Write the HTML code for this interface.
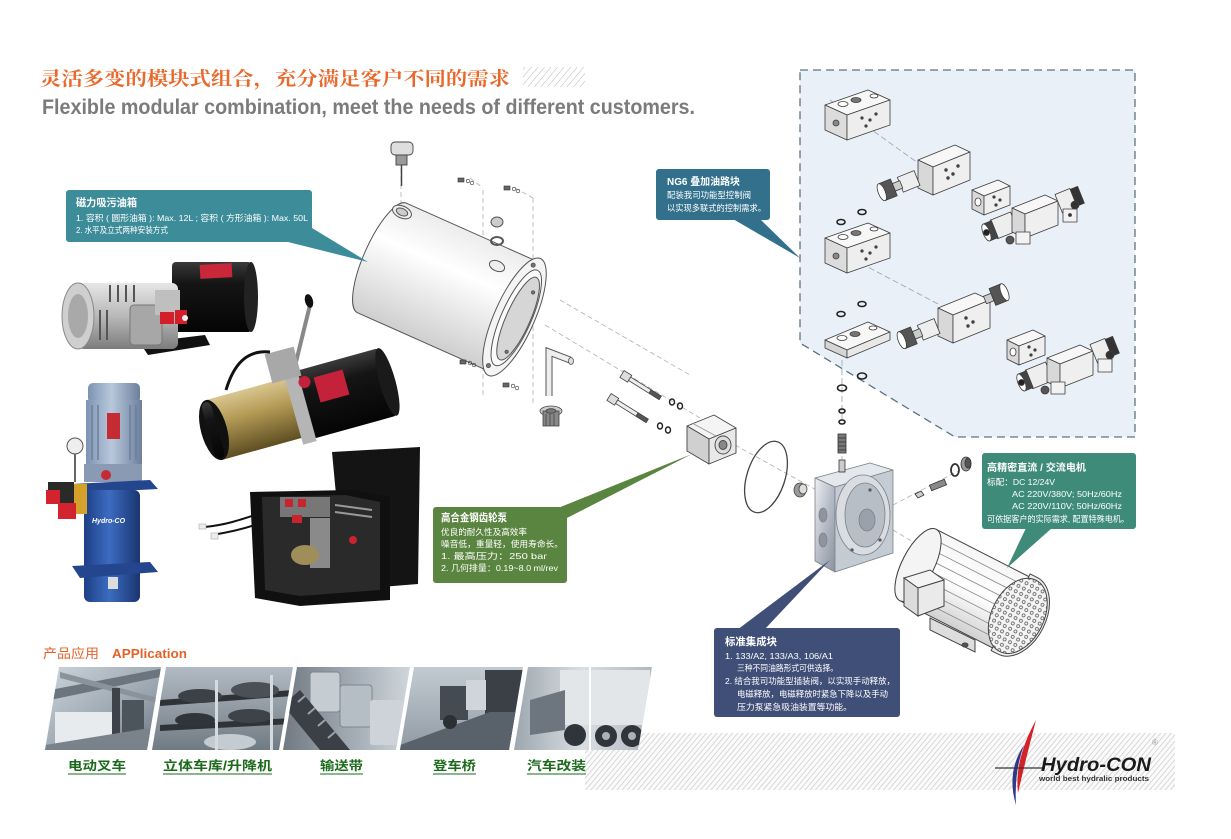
<!DOCTYPE html>
<html><head><meta charset="utf-8">
<style>
html,body{margin:0;padding:0;background:#fff;}
svg{display:block;}
text{font-family:"Liberation Sans","Noto Sans CJK SC",sans-serif;}
.cal{font-family:"Liberation Serif","Noto Serif CJK SC",serif;font-weight:bold;}
.w{fill:#fff;}
</style></head><body>
<svg width="1231" height="839" viewBox="0 0 1231 839" xmlns="http://www.w3.org/2000/svg">
<defs>
 <pattern id="hatch" width="4" height="4" patternUnits="userSpaceOnUse" patternTransform="rotate(40)">
   <rect width="4" height="4" fill="#fbfbfb"/>
   <line x1="0" y1="0" x2="0" y2="4" stroke="#c6c6c6" stroke-width="1.5"/>
 </pattern>
 <pattern id="hatch2" width="5" height="5" patternUnits="userSpaceOnUse" patternTransform="rotate(40)">
   <rect width="5" height="5" fill="#fff"/>
   <line x1="0" y1="0" x2="0" y2="5" stroke="#b8b8b8" stroke-width="1"/>
 </pattern>
 <pattern id="dots" width="6" height="6" patternUnits="userSpaceOnUse">
   <rect width="6" height="6" fill="#f4f4f4"/>
   <circle cx="3" cy="3" r="1.5" fill="none" stroke="#555" stroke-width="0.7"/>
 </pattern>
 <linearGradient id="tankg" x1="0" y1="0" x2="0" y2="1">
   <stop offset="0" stop-color="#ececec"/><stop offset="0.35" stop-color="#ffffff"/><stop offset="1" stop-color="#cfcfcf"/>
 </linearGradient>
 <linearGradient id="silver" x1="0" y1="0" x2="0" y2="1">
   <stop offset="0" stop-color="#e6e6e6"/><stop offset="0.5" stop-color="#b9b9b9"/><stop offset="1" stop-color="#7c7c7c"/>
 </linearGradient>
 <linearGradient id="black" x1="0" y1="0" x2="0" y2="1">
   <stop offset="0" stop-color="#3a3a3a"/><stop offset="0.3" stop-color="#151515"/><stop offset="1" stop-color="#050505"/>
 </linearGradient>
 <linearGradient id="gold" x1="0" y1="0" x2="0" y2="1">
   <stop offset="0" stop-color="#d9c690"/><stop offset="0.4" stop-color="#b39a55"/><stop offset="1" stop-color="#5e4e22"/>
 </linearGradient>
 <linearGradient id="blue" x1="0" y1="0" x2="1" y2="0">
   <stop offset="0" stop-color="#1d3f85"/><stop offset="0.45" stop-color="#3c6cc0"/><stop offset="1" stop-color="#1a3470"/>
 </linearGradient>
 <linearGradient id="lblue" x1="0" y1="0" x2="1" y2="0">
   <stop offset="0" stop-color="#7d93b3"/><stop offset="0.45" stop-color="#b8c8dc"/><stop offset="1" stop-color="#6c7f9c"/>
 </linearGradient>
 <linearGradient id="metal" x1="0" y1="0" x2="1" y2="1">
   <stop offset="0" stop-color="#eef0f3"/><stop offset="0.5" stop-color="#b5bcc6"/><stop offset="1" stop-color="#8a929e"/>
 </linearGradient>
 <linearGradient id="motorg" x1="0" y1="0" x2="0" y2="1">
   <stop offset="0" stop-color="#f6f6f6"/><stop offset="0.5" stop-color="#ffffff"/><stop offset="1" stop-color="#d0d0d0"/>
 </linearGradient>
 <linearGradient id="p1" x1="0" y1="0" x2="1" y2="1">
   <stop offset="0" stop-color="#d3dae0"/><stop offset="0.6" stop-color="#98a3ad"/><stop offset="1" stop-color="#5f6973"/>
 </linearGradient>
 <linearGradient id="p2" x1="0" y1="0" x2="0" y2="1">
   <stop offset="0" stop-color="#b7c0c8"/><stop offset="1" stop-color="#6d7780"/>
 </linearGradient>
 <linearGradient id="p3" x1="0" y1="0" x2="1" y2="0">
   <stop offset="0" stop-color="#6f7880"/><stop offset="0.6" stop-color="#a9b2ba"/><stop offset="1" stop-color="#d4dade"/>
 </linearGradient>
 <linearGradient id="p4" x1="0" y1="0" x2="0" y2="1">
   <stop offset="0" stop-color="#c7cfd6"/><stop offset="1" stop-color="#8d97a0"/>
 </linearGradient>
 <linearGradient id="p5" x1="0" y1="0" x2="1" y2="0">
   <stop offset="0" stop-color="#9aa4ac"/><stop offset="0.5" stop-color="#d9dee2"/><stop offset="1" stop-color="#aeb6bd"/>
 </linearGradient>
 <clipPath id="c1"><polygon points="59,667 161,667 147,750 45,750"/></clipPath>
 <clipPath id="c2"><polygon points="166,667 293,667 279,750 152,750"/></clipPath>
 <clipPath id="c3"><polygon points="297,667 410,667 396,750 283,750"/></clipPath>
 <clipPath id="c4"><polygon points="414,667 523,667 509,750 400,750"/></clipPath>
 <clipPath id="c5"><polygon points="528,667 652,667 638,750 514,750"/></clipPath>
</defs>

<rect width="1231" height="839" fill="#fff"/>

<!-- ===== Titles ===== -->
<text x="40" y="85" class="cal" font-size="19" fill="#e9692c" textLength="470" lengthAdjust="spacingAndGlyphs" style="font-family:'Noto Serif CJK SC','Liberation Serif',serif;font-weight:bold;">灵活多变的模块式组合，充分满足客户不同的需求</text>
<rect x="523" y="67" width="62" height="20" fill="url(#hatch2)"/>
<text x="42" y="114" font-size="21" font-weight="bold" fill="#7b7b7b" textLength="653" lengthAdjust="spacingAndGlyphs">Flexible modular combination, meet the needs of different  customers.</text>

<!-- ===== dashed box ===== -->
<polygon points="800,70 1135,70 1135,437 955,437 800,343" fill="#e9f0f7" stroke="#5c7384" stroke-width="1.3" stroke-dasharray="8,5"/>

<!-- guide lines inside box -->
<g stroke="#9aa4ac" stroke-width="0.8" stroke-dasharray="6,3" fill="none">
 <line x1="830" y1="100" x2="918" y2="163"/>
 <line x1="845" y1="255" x2="940" y2="305"/>
 <line x1="842" y1="360" x2="842" y2="420"/>
</g>

<!-- Block 1 -->
<g stroke="#3d3d3d" stroke-width="0.8" stroke-linejoin="round">
 <polygon points="825,105 868,90 890,100 847,115" fill="#f7f7f7"/>
 <polygon points="825,105 847,115 847,140 825,130" fill="#dcdcdc"/>
 <polygon points="847,115 890,100 890,125 847,140" fill="#eeeeee"/>
 <ellipse cx="843" cy="104" rx="5" ry="2.5" fill="#fff"/><ellipse cx="856" cy="100" rx="5" ry="2.5" fill="#777"/><ellipse cx="874" cy="96" rx="4" ry="2" fill="#fff"/>
 <circle cx="836" cy="123" r="3" fill="#888"/>
 <circle cx="862" cy="118" r="1.2" fill="#444"/><circle cx="870" cy="120" r="1.2" fill="#444"/><circle cx="866" cy="126" r="1.2" fill="#444"/><circle cx="876" cy="114" r="1.2" fill="#444"/>
</g>
<!-- Block 2 -->
<g transform="translate(0,133)" stroke="#3d3d3d" stroke-width="0.8" stroke-linejoin="round">
 <polygon points="825,105 868,90 890,100 847,115" fill="#f7f7f7"/>
 <polygon points="825,105 847,115 847,140 825,130" fill="#dcdcdc"/>
 <polygon points="847,115 890,100 890,125 847,140" fill="#eeeeee"/>
 <ellipse cx="843" cy="104" rx="5" ry="2.5" fill="#fff"/><ellipse cx="856" cy="100" rx="5" ry="2.5" fill="#777"/><ellipse cx="874" cy="96" rx="4" ry="2" fill="#fff"/>
 <circle cx="836" cy="123" r="3" fill="#888"/>
 <circle cx="862" cy="118" r="1.2" fill="#444"/><circle cx="870" cy="120" r="1.2" fill="#444"/><circle cx="866" cy="126" r="1.2" fill="#444"/><circle cx="876" cy="114" r="1.2" fill="#444"/>
</g>
<!-- Plate -->
<g stroke="#3d3d3d" stroke-width="0.8" stroke-linejoin="round">
 <polygon points="825,340 868,322 890,332 847,350" fill="#f7f7f7"/>
 <polygon points="825,340 847,350 847,358 825,348" fill="#d5d5d5"/>
 <polygon points="847,350 890,332 890,340 847,358" fill="#e8e8e8"/>
 <ellipse cx="842" cy="338" rx="5" ry="2.5" fill="#fff"/><ellipse cx="855" cy="334" rx="5" ry="2.5" fill="#777"/><ellipse cx="873" cy="328" rx="4" ry="2" fill="#fff"/>
</g>
<!-- rings -->
<g fill="none" stroke="#222" stroke-width="1.6">
 <ellipse cx="841" cy="222" rx="4" ry="2.5"/><ellipse cx="862" cy="212" rx="4" ry="2.5"/>
 <ellipse cx="841" cy="314" rx="4" ry="2.5"/><ellipse cx="862" cy="304" rx="4" ry="2.5"/>
 <ellipse cx="862" cy="376" rx="4.5" ry="3"/><ellipse cx="842" cy="388" rx="4.5" ry="3"/>
 <ellipse cx="842" cy="411" rx="3" ry="2"/><ellipse cx="842" cy="422" rx="3" ry="2"/>
</g>
<!-- relief valve 1 -->
<g id="rv1" stroke="#3d3d3d" stroke-width="0.8" stroke-linejoin="round">
 <polygon points="918,160 955,145 970,152 933,167" fill="#f7f7f7"/>
 <polygon points="918,160 933,167 933,195 918,188" fill="#d8d8d8"/>
 <polygon points="933,167 970,152 970,180 933,195" fill="#efefef"/>
 <circle cx="946" cy="170" r="1.3" fill="#444"/><circle cx="953" cy="174" r="1.3" fill="#444"/><circle cx="948" cy="178" r="1.3" fill="#444"/><circle cx="958" cy="166" r="1.3" fill="#444"/>
 <g transform="translate(917,178) rotate(-22)">
  <rect x="-18" y="-8" width="18" height="16" fill="#eee"/>
  <rect x="-25" y="-4" width="8" height="8" fill="#ccc"/>
  <rect x="-38" y="-9" width="13" height="18" fill="#555"/>
  <ellipse cx="-38" cy="0" rx="3.5" ry="9" fill="#fff"/>
 </g>
</g>
<!-- small block 1 -->
<g id="sb1" stroke="#3d3d3d" stroke-width="0.8" stroke-linejoin="round">
 <polygon points="972,190 998,180 1010,186 984,196" fill="#f7f7f7"/>
 <polygon points="972,190 984,196 984,215 972,209" fill="#d8d8d8"/>
 <polygon points="984,196 1010,186 1010,205 984,215" fill="#efefef"/>
 <ellipse cx="978" cy="202" rx="3" ry="4" fill="#fff"/>
 <circle cx="994" cy="197" r="1.2" fill="#444"/><circle cx="1000" cy="200" r="1.2" fill="#444"/><circle cx="996" cy="205" r="1.2" fill="#444"/>
</g>
<!-- solenoid valve 1 -->
<g id="sv1" stroke="#3d3d3d" stroke-width="0.8" stroke-linejoin="round">
 <g transform="translate(1005,225) rotate(-22)">
  <rect x="-12" y="-10" width="22" height="20" fill="#eee"/>
  <rect x="-20" y="-9" width="9" height="18" fill="#444"/>
  <ellipse cx="-20" cy="0" rx="3.5" ry="9" fill="#fff"/>
  <circle cx="-20" cy="0" r="3" fill="#222"/>
 </g>
 <polygon points="1012,208 1045,195 1058,201 1025,214" fill="#f7f7f7"/>
 <polygon points="1012,208 1025,214 1025,238 1012,232" fill="#d8d8d8"/>
 <polygon points="1025,214 1058,201 1058,225 1025,238" fill="#efefef"/>
 <g transform="translate(1068,200) rotate(-22)">
  <rect x="-10" y="-10" width="16" height="20" fill="#eee"/>
  <rect x="6" y="-9" width="8" height="18" fill="#333"/>
 </g>
 <rect x="1016" y="232" width="14" height="12" fill="#f2f2f2"/>
 <circle cx="1010" cy="240" r="4" fill="#555"/>
 <rect x="1063" y="209" width="14" height="13" fill="#f2f2f2"/>
 <circle cx="1070" cy="215" r="1.5" fill="#333"/>
 <circle cx="1075" cy="205" r="4" fill="#333"/>
</g>
<!-- second set -->
<g transform="translate(20,148)">
 <g stroke="#3d3d3d" stroke-width="0.8" stroke-linejoin="round">
  <polygon points="918,160 955,145 970,152 933,167" fill="#f7f7f7"/>
  <polygon points="918,160 933,167 933,195 918,188" fill="#d8d8d8"/>
  <polygon points="933,167 970,152 970,180 933,195" fill="#efefef"/>
  <circle cx="946" cy="170" r="1.3" fill="#444"/><circle cx="953" cy="174" r="1.3" fill="#444"/><circle cx="948" cy="178" r="1.3" fill="#444"/>
  <g transform="translate(917,178) rotate(-22)">
   <rect x="-18" y="-8" width="18" height="16" fill="#eee"/>
   <rect x="-25" y="-4" width="8" height="8" fill="#ccc"/>
   <rect x="-38" y="-9" width="13" height="18" fill="#555"/>
   <ellipse cx="-38" cy="0" rx="3.5" ry="9" fill="#fff"/>
  </g>
  <g transform="translate(965,152) rotate(-22)">
   <rect x="0" y="-4" width="8" height="8" fill="#ccc"/>
   <rect x="8" y="-9" width="13" height="18" fill="#555"/>
   <ellipse cx="21" cy="0" rx="3.5" ry="9" fill="#fff"/>
  </g>
 </g>
</g>
<g transform="translate(35,150)">
 <g stroke="#3d3d3d" stroke-width="0.8" stroke-linejoin="round">
  <polygon points="972,190 998,180 1010,186 984,196" fill="#f7f7f7"/>
  <polygon points="972,190 984,196 984,215 972,209" fill="#d8d8d8"/>
  <polygon points="984,196 1010,186 1010,205 984,215" fill="#efefef"/>
  <ellipse cx="978" cy="202" rx="3" ry="4" fill="#fff"/>
  <circle cx="994" cy="197" r="1.2" fill="#444"/><circle cx="1000" cy="200" r="1.2" fill="#444"/><circle cx="996" cy="205" r="1.2" fill="#444"/>
 </g>
 <g stroke="#3d3d3d" stroke-width="0.8" stroke-linejoin="round">
  <g transform="translate(1005,225) rotate(-22)">
   <rect x="-12" y="-10" width="22" height="20" fill="#eee"/>
   <rect x="-20" y="-9" width="9" height="18" fill="#444"/>
   <ellipse cx="-20" cy="0" rx="3.5" ry="9" fill="#fff"/>
   <circle cx="-20" cy="0" r="3" fill="#222"/>
  </g>
  <polygon points="1012,208 1045,195 1058,201 1025,214" fill="#f7f7f7"/>
  <polygon points="1012,208 1025,214 1025,238 1012,232" fill="#d8d8d8"/>
  <polygon points="1025,214 1058,201 1058,225 1025,238" fill="#efefef"/>
  <g transform="translate(1068,200) rotate(-22)">
   <rect x="-10" y="-10" width="16" height="20" fill="#eee"/>
   <rect x="6" y="-9" width="8" height="18" fill="#333"/>
  </g>
  <rect x="1016" y="232" width="14" height="12" fill="#f2f2f2"/>
  <circle cx="1010" cy="240" r="4" fill="#555"/>
  <rect x="1063" y="209" width="14" height="13" fill="#f2f2f2"/>
  <circle cx="1075" cy="205" r="4" fill="#333"/>
 </g>
</g>

<!-- ===== exploded tank ===== -->
<g stroke="#b0b0b0" stroke-width="0.8" stroke-dasharray="5,3" fill="none">
 <line x1="401" y1="160" x2="401" y2="205"/>
 <line x1="483" y1="190" x2="483" y2="398"/>
 <line x1="533" y1="198" x2="533" y2="405"/>
 <line x1="470" y1="178" x2="483" y2="188"/>
 <line x1="515" y1="188" x2="533" y2="198"/>
 <line x1="545" y1="325" x2="700" y2="418"/>
 <line x1="560" y1="300" x2="690" y2="375"/>
 <line x1="735" y1="445" x2="820" y2="492"/>
 <line x1="893" y1="530" x2="930" y2="552"/>
 <line x1="893" y1="505" x2="960" y2="470"/>
 <line x1="842" y1="440" x2="842" y2="470"/>
</g>
<!-- cap -->
<g stroke="#444" stroke-width="0.9">
 <rect x="391" y="142" width="22" height="13" rx="4" fill="#dedede"/>
 <rect x="396" y="155" width="11" height="10" fill="#999"/>
 <line x1="401.5" y1="165" x2="401.5" y2="186" stroke-width="1.5"/>
</g>
<g transform="translate(382,258) rotate(24)" stroke="#555" stroke-width="1">
 <path d="M0,-60 L145,-60 A18,60 0 0 1 145,60 L0,60 A18,60 0 0 1 0,-60 Z" fill="url(#tankg)"/>
 <ellipse cx="145" cy="0" rx="20" ry="64" fill="#f4f4f4"/>
 <ellipse cx="147" cy="0" rx="15" ry="52" fill="#fafafa"/>
 <ellipse cx="149" cy="0" rx="12" ry="45" fill="#d6d6d6"/>
 <circle cx="141" cy="-55" r="2" fill="#777"/><circle cx="141" cy="55" r="2" fill="#777"/><circle cx="152" cy="-30" r="1.6" fill="#777"/><circle cx="152" cy="35" r="1.6" fill="#777"/>
</g>
<g stroke="#555" stroke-width="1" fill="#eee">
 <ellipse cx="402" cy="212" rx="10" ry="6" transform="rotate(24 402 212)"/>
 <ellipse cx="402" cy="212" rx="6" ry="3.5" transform="rotate(24 402 212)" fill="#ccc"/>
 <ellipse cx="497" cy="266" rx="8" ry="5" transform="rotate(24 497 266)"/>
 <ellipse cx="497" cy="222" rx="6" ry="5" fill="#ccc"/>
 <ellipse cx="497" cy="241" rx="6" ry="4" fill="none" stroke-width="2"/>
</g>
<!-- small screws -->
<g fill="#666" stroke="#333" stroke-width="0.6">
 <g transform="translate(458,180)"><rect x="0" y="-2" width="6" height="4"/><circle cx="10" cy="1" r="1.8" fill="none"/><circle cx="14" cy="3" r="1.8" fill="none"/></g>
 <g transform="translate(504,188)"><rect x="0" y="-2" width="6" height="4"/><circle cx="10" cy="1" r="1.8" fill="none"/><circle cx="14" cy="3" r="1.8" fill="none"/></g>
 <g transform="translate(460,362)"><rect x="0" y="-2" width="6" height="4"/><circle cx="10" cy="1" r="1.8" fill="none"/><circle cx="14" cy="3" r="1.8" fill="none"/></g>
 <g transform="translate(503,385)"><rect x="0" y="-2" width="6" height="4"/><circle cx="10" cy="1" r="1.8" fill="none"/><circle cx="14" cy="3" r="1.8" fill="none"/></g>
</g>
<!-- elbow pipe -->
<path d="M549,396 L549,352 L570,360" fill="none" stroke="#555" stroke-width="7" stroke-linejoin="miter"/>
<path d="M549,396 L549,352 L570,360" fill="none" stroke="#eee" stroke-width="5" stroke-linejoin="miter"/>
<ellipse cx="571" cy="361" rx="2.5" ry="3.5" fill="#ddd" stroke="#555" stroke-width="0.8"/>
<!-- filter -->
<g stroke="#444" stroke-width="0.8">
 <ellipse cx="551" cy="411" rx="11" ry="5" fill="#ccc"/>
 <rect x="543" y="411" width="16" height="15" fill="#888"/>
 <line x1="546" y1="414" x2="546" y2="426"/><line x1="550" y1="414" x2="550" y2="426"/><line x1="554" y1="414" x2="554" y2="426"/>
 <ellipse cx="551" cy="411" rx="5" ry="2.3" fill="#777"/>
</g>
<!-- bolts -->
<g stroke="#444" stroke-width="0.8">
 <g transform="translate(622,374) rotate(32)"><rect x="0" y="-4" width="9" height="8" fill="#ddd"/><rect x="9" y="-2" width="36" height="4" fill="#eee"/><rect x="33" y="-2" width="12" height="4" fill="#555"/></g>
 <g transform="translate(609,397) rotate(32)"><rect x="0" y="-4" width="9" height="8" fill="#ddd"/><rect x="9" y="-2" width="36" height="4" fill="#eee"/><rect x="33" y="-2" width="12" height="4" fill="#555"/></g>
</g>
<g fill="none" stroke="#222" stroke-width="1.4">
 <ellipse cx="672" cy="402" rx="2.5" ry="3"/><ellipse cx="680" cy="406" rx="2.5" ry="3"/>
 <ellipse cx="660" cy="426" rx="2.5" ry="3"/><ellipse cx="668" cy="430" rx="2.5" ry="3"/>
</g>
<!-- pump -->
<g stroke="#444" stroke-width="0.9" stroke-linejoin="round">
 <polygon points="687,426 714,415 736,428 709,439" fill="#f4f4f4"/>
 <polygon points="687,426 709,439 709,464 687,451" fill="#d0d0d0"/>
 <polygon points="709,439 736,428 736,453 709,464" fill="#e8e8e8"/>
 <line x1="692" y1="423" x2="716" y2="436" stroke="#999"/>
 <ellipse cx="723" cy="445" rx="8" ry="9" fill="#ddd"/>
 <ellipse cx="723" cy="445" rx="4" ry="4.5" fill="#888"/>
</g>
<!-- O-ring big -->
<ellipse cx="766" cy="477" rx="19" ry="37" transform="rotate(18 766 477)" fill="none" stroke="#444" stroke-width="1.3"/>
<!-- plug -->
<g stroke="#444" stroke-width="0.8"><ellipse cx="800" cy="490" rx="6" ry="7" fill="#999"/><ellipse cx="803" cy="489" rx="4" ry="5" fill="#ddd"/></g>
<!-- manifold block -->
<g stroke="#7a818a" stroke-width="0.8" stroke-linejoin="round">
 <polygon points="815,478 870,463 893,470 835,487" fill="#e4e7eb"/>
 <polygon points="815,478 835,487 835,572 815,561" fill="url(#metal)"/>
 <polygon points="835,487 893,470 893,553 835,572" fill="#c5cbd3"/>
 <ellipse cx="863" cy="515" rx="27" ry="40" fill="#d9dde2"/>
 <ellipse cx="865" cy="515" rx="20" ry="32" fill="#b8bec6"/>
 <ellipse cx="867" cy="520" rx="8" ry="11" fill="#9aa1aa"/>
 <ellipse cx="823" cy="515" rx="4" ry="7" fill="#8f959e"/>
 <ellipse cx="823" cy="540" rx="4" ry="7" fill="#8f959e"/>
 <circle cx="870" cy="490" r="1.5" fill="#555"/><circle cx="880" cy="540" r="1.5" fill="#555"/><circle cx="852" cy="550" r="1.5" fill="#555"/>
</g>
<!-- stack above manifold -->
<g stroke="#333" stroke-width="0.8">
 <rect x="838" y="434" width="8" height="19" fill="#777"/>
 <line x1="838" y1="438" x2="846" y2="438"/><line x1="838" y1="442" x2="846" y2="442"/><line x1="838" y1="446" x2="846" y2="446"/><line x1="838" y1="450" x2="846" y2="450"/>
 <rect x="839" y="460" width="6" height="12" fill="#ccc"/>
</g>
<!-- right chain -->
<g stroke="#333" stroke-width="0.8">
 <path d="M915,494 l6,-3 l3,4 l-6,3z" fill="#ccc"/>
 <rect x="930" y="482" width="16" height="6" fill="#888" transform="rotate(-22 938 485)"/>
 <ellipse cx="955" cy="470" rx="4" ry="6" fill="none" stroke-width="1.8"/>
 <ellipse cx="966" cy="464" rx="5" ry="7" fill="#999"/>
 <ellipse cx="968" cy="463" rx="3" ry="5" fill="#555"/>
</g>
<!-- motor -->
<g transform="translate(918,565) rotate(27)" stroke="#444" stroke-width="1">
 <path d="M0,-40 L108,-40 L108,40 L0,40 A16,40 0 0 1 0,-40 Z" fill="url(#motorg)"/>
 <g stroke="#888" stroke-width="0.8">
  <line x1="8" y1="-30" x2="105" y2="-30"/><line x1="8" y1="-20" x2="105" y2="-20"/><line x1="8" y1="-10" x2="105" y2="-10"/><line x1="8" y1="0" x2="105" y2="0"/><line x1="8" y1="10" x2="105" y2="10"/><line x1="8" y1="20" x2="105" y2="20"/><line x1="8" y1="30" x2="105" y2="30"/>
 </g>
 <ellipse cx="0" cy="0" rx="16" ry="40" fill="#f4f4f4"/>
 <path d="M104,-43 L112,-43 A28,43 0 0 1 112,43 L104,43 Z" fill="#eee"/>
 <ellipse cx="112" cy="0" rx="26" ry="40" fill="url(#dots)"/>
</g>
<g stroke="#444" stroke-width="1">
 <polygon points="904,578 930,570 944,580 918,588" fill="#f4f4f4"/>
 <polygon points="904,578 918,588 918,616 904,606" fill="#dcdcdc"/>
 <polygon points="918,588 944,580 944,606 918,616" fill="#eaeaea"/>
 <polygon points="930,618 975,640 975,652 930,630" fill="#ddd"/>
 <ellipse cx="965" cy="645" rx="3" ry="2" fill="#555"/>
</g>

<!-- ===== product photos (left) ===== -->
<!-- unit 1 -->
<g>
 <polygon points="140,343 205,335 210,345 148,355" fill="#111"/>
 <rect x="172" y="262" width="80" height="70" rx="4" fill="url(#black)"/>
 <ellipse cx="251" cy="297" rx="7" ry="35" fill="#222"/>
 <rect x="200" y="264" width="32" height="14" fill="#c8283a" transform="rotate(-3 216 271)"/>
 <rect x="78" y="283" width="100" height="66" rx="6" fill="url(#silver)"/>
 <g stroke="#555" stroke-width="2"><line x1="110" y1="285" x2="110" y2="302"/><line x1="118" y1="285" x2="118" y2="302"/><line x1="126" y1="285" x2="126" y2="302"/><line x1="134" y1="285" x2="134" y2="302"/><line x1="100" y1="310" x2="100" y2="340"/><line x1="107" y1="310" x2="107" y2="340"/></g>
 <ellipse cx="78" cy="316" rx="16" ry="33" fill="#cfcfcf" stroke="#888"/>
 <ellipse cx="78" cy="316" rx="10" ry="22" fill="#a9a9a9"/>
 <rect x="130" y="305" width="32" height="40" rx="4" fill="#a7a7a7" stroke="#777"/>
 <rect x="155" y="290" width="25" height="25" fill="#bfbfbf"/>
 <rect x="160" y="312" width="14" height="12" fill="#d21f2a"/>
 <rect x="175" y="310" width="12" height="14" fill="#d21f2a"/>
 <circle cx="185" cy="318" r="3" fill="#eee"/>
</g>
<!-- unit 2 -->
<g>
 <line x1="296" y1="362" x2="310" y2="305" stroke="#888" stroke-width="4"/>
 <ellipse cx="309" cy="301" rx="4" ry="7" fill="#111" transform="rotate(-15 309 301)"/>
 <g transform="translate(214,430) rotate(-15.5)">
  <rect x="0" y="-31" width="90" height="62" fill="url(#gold)"/>
  <ellipse cx="0" cy="0" rx="13" ry="31" fill="#111"/>
  <rect x="-6" y="-29" width="10" height="58" rx="6" fill="url(#black)"/>
  <rect x="88" y="-35" width="92" height="70" rx="3" fill="url(#black)"/>
  <ellipse cx="180" cy="0" rx="8" ry="35" fill="#1a1a1a"/>
  <rect x="82" y="-38" width="14" height="76" fill="#b5b5b5"/>
  <rect x="110" y="-24" width="30" height="26" fill="#c4213a"/>
  <circle cx="100" cy="-22" r="6" fill="#c4213a"/>
 </g>
 <rect x="268" y="350" width="30" height="30" fill="#a8a8a8" transform="rotate(-15 283 365)"/>
 <path d="M226,390 C235,360 250,350 270,352" fill="none" stroke="#111" stroke-width="3"/>
</g>
<!-- vertical unit -->
<g>
 <rect x="88" y="383" width="52" height="20" rx="5" fill="url(#lblue)"/>
 <rect x="86" y="400" width="56" height="64" fill="url(#lblue)"/>
 <g stroke="#6d7f99" stroke-width="1.5"><line x1="92" y1="405" x2="92" y2="460"/><line x1="98" y1="405" x2="98" y2="460"/><line x1="130" y1="405" x2="130" y2="460"/><line x1="136" y1="405" x2="136" y2="460"/></g>
 <rect x="107" y="413" width="13" height="26" fill="#c52b33"/>
 <rect x="84" y="464" width="58" height="18" fill="#8a9ab3"/>
 <circle cx="106" cy="475" r="5" fill="#c52b33"/>
 <polygon points="72,484 150,480 158,489 80,493" fill="#24468f"/>
 <rect x="84" y="490" width="56" height="112" rx="6" fill="url(#blue)"/>
 <polygon points="72,566 150,562 158,572 80,578" fill="#24468f"/>
 <rect x="108" y="577" width="10" height="12" fill="#ddd"/>
 <text x="92" y="523" font-size="7" font-style="italic" font-weight="bold" fill="#fff">Hydro-CO</text>
 <circle cx="75" cy="446" r="8" fill="#eee" stroke="#555"/>
 <line x1="75" y1="454" x2="75" y2="482" stroke="#666" stroke-width="2"/>
 <rect x="72" y="484" width="15" height="30" fill="#d4a22a"/>
 <rect x="48" y="482" width="26" height="22" fill="#2a2a2a"/>
 <rect x="46" y="490" width="14" height="14" fill="#d2232f"/>
 <rect x="58" y="503" width="18" height="16" fill="#d2232f"/>
</g>
<!-- box unit -->
<g>
 <polygon points="332,452 420,447 418,584 345,590" fill="#141414"/>
 <polygon points="250,492 352,490 390,497 390,600 300,606 255,598" fill="#101010"/>
 <polygon points="262,497 345,495 380,502 380,590 300,596 265,590" fill="#2a2a2a"/>
 <rect x="280" y="497" width="50" height="20" fill="#777"/>
 <rect x="285" y="499" width="8" height="8" fill="#c9232d"/><rect x="298" y="499" width="8" height="8" fill="#c9232d"/>
 <rect x="292" y="515" width="10" height="8" fill="#c9232d"/>
 <rect x="310" y="518" width="20" height="50" fill="#8a8a8a"/>
 <ellipse cx="305" cy="555" rx="14" ry="10" fill="#a08e5a"/>
 <line x1="335" y1="505" x2="372" y2="510" stroke="#999" stroke-width="2"/>
 <line x1="335" y1="512" x2="372" y2="517" stroke="#999" stroke-width="2"/>
 <circle cx="353" cy="540" r="4" fill="#c9232d"/>
 <path d="M255,515 C240,520 225,525 205,527" stroke="#111" stroke-width="2" fill="none"/>
 <path d="M255,525 C240,530 225,533 212,535" stroke="#111" stroke-width="2" fill="none"/>
 <rect x="199" y="524" width="7" height="5" fill="#eee" stroke="#999" stroke-width="0.5"/>
 <rect x="211" y="533" width="7" height="6" fill="#eee" stroke="#999" stroke-width="0.5"/>
</g>

<!-- ===== callouts ===== -->
<!-- 1 -->
<polygon points="284,241 312,228 368,262" fill="#3d8c9a"/>
<rect x="66" y="190" width="246" height="52" rx="3" fill="#3d8c9a"/>
<text x="76" y="206" font-size="10.5" font-weight="bold" class="w" textLength="61" lengthAdjust="spacingAndGlyphs">磁力吸污油箱</text>
<text x="76" y="221" font-size="8.5" class="w" textLength="232" lengthAdjust="spacingAndGlyphs">1. 容积 ( 圆形油箱 ): Max. 12L ;  容积 ( 方形油箱 ): Max. 50L</text>
<text x="76" y="233" font-size="8.5" class="w" textLength="92" lengthAdjust="spacingAndGlyphs">2. 水平及立式两种安装方式</text>

<!-- 2 -->
<polygon points="733,219 760,219 800,258" fill="#32708c"/>
<rect x="656" y="169" width="114" height="51" rx="3" fill="#32708c"/>
<text x="667" y="185" font-size="10" font-weight="bold" class="w" textLength="73" lengthAdjust="spacingAndGlyphs">NG6 叠加油路块</text>
<text x="667" y="198" font-size="8.5" class="w" textLength="84" lengthAdjust="spacingAndGlyphs">配装我司功能型控制阀</text>
<text x="667" y="211" font-size="8.5" class="w" textLength="99" lengthAdjust="spacingAndGlyphs">以实现多联式的控制需求。</text>

<!-- 3 -->
<polygon points="558,508 567,518 692,454" fill="#5a8540"/>
<rect x="433" y="507" width="134" height="76" rx="3" fill="#5a8540"/>
<text x="441" y="521" font-size="10.5" font-weight="bold" class="w" textLength="66" lengthAdjust="spacingAndGlyphs">高合金钢齿轮泵</text>
<text x="441" y="535" font-size="8.5" class="w" textLength="86" lengthAdjust="spacingAndGlyphs">优良的耐久性及高效率</text>
<text x="441" y="547" font-size="8.5" class="w" textLength="122" lengthAdjust="spacingAndGlyphs">噪音低，重量轻，使用寿命长。</text>
<text x="441" y="559" font-size="8.5" class="w" textLength="106" lengthAdjust="spacingAndGlyphs">1. 最高压力：250 bar</text>
<text x="441" y="571" font-size="8.5" class="w" textLength="117" lengthAdjust="spacingAndGlyphs">2. 几何排量：0.19~8.0 ml/rev</text>

<!-- 4 -->
<polygon points="1026,528 1052,528 1007,568" fill="#3f8b7a"/>
<rect x="982" y="453" width="154" height="76" rx="3" fill="#3f8b7a"/>
<text x="987" y="471" font-size="10" font-weight="bold" class="w" textLength="99" lengthAdjust="spacingAndGlyphs">高精密直流 / 交流电机</text>
<text x="987" y="485" font-size="8.5" class="w" textLength="68" lengthAdjust="spacingAndGlyphs">标配：DC 12/24V</text>
<text x="1012" y="497" font-size="8.5" class="w" textLength="110" lengthAdjust="spacingAndGlyphs">AC 220V/380V; 50Hz/60Hz</text>
<text x="1012" y="509" font-size="8.5" class="w" textLength="110" lengthAdjust="spacingAndGlyphs">AC 220V/110V; 50Hz/60Hz</text>
<text x="987" y="522" font-size="8.5" class="w" textLength="142" lengthAdjust="spacingAndGlyphs">可依据客户的实际需求, 配置特殊电机。</text>

<!-- 5 -->
<polygon points="737,630 764,630 830,560" fill="#404f78"/>
<rect x="714" y="628" width="186" height="89" rx="3" fill="#404f78"/>
<text x="725" y="645" font-size="10.5" font-weight="bold" class="w" textLength="52" lengthAdjust="spacingAndGlyphs">标准集成块</text>
<text x="725" y="659" font-size="8.5" class="w" textLength="108" lengthAdjust="spacingAndGlyphs">1. 133/A2, 133/A3, 106/A1</text>
<text x="737" y="671" font-size="8.5" class="w" textLength="101" lengthAdjust="spacingAndGlyphs">三种不同油路形式可供选择。</text>
<text x="725" y="684" font-size="8.5" class="w" textLength="170" lengthAdjust="spacingAndGlyphs">2. 结合我司功能型插装阀，以实现手动释放，</text>
<text x="737" y="697" font-size="8.5" class="w" textLength="151" lengthAdjust="spacingAndGlyphs">电磁释放，电磁释放时紧急下降以及手动</text>
<text x="737" y="710" font-size="8.5" class="w" textLength="115" lengthAdjust="spacingAndGlyphs">压力泵紧急吸油装置等功能。</text>

<!-- ===== bottom band & logo ===== -->
<rect x="585" y="733" width="590" height="57" fill="url(#hatch)" opacity="0.9"/>
<path d="M1036,720 Q1014,760 1018,793 Q1026,758 1036,720 Z" fill="#d2232a"/>
<path d="M1024,745 Q1006,772 1016,805 Q1014,772 1024,745 Z" fill="#2c3a88"/>
<line x1="995" y1="768" x2="1045" y2="768" stroke="#333" stroke-width="1.2"/>
<text x="1041" y="771" font-size="19" font-weight="bold" font-style="italic" fill="#1a1a1a" textLength="110" lengthAdjust="spacingAndGlyphs">Hydro-CON</text>
<text x="1039" y="781" font-size="7" font-weight="bold" fill="#333" textLength="110" lengthAdjust="spacingAndGlyphs">world best hydralic products</text>
<text x="1152" y="745" font-size="8" fill="#999">®</text>

<!-- ===== application ===== -->
<text x="43" y="658" font-size="13" fill="#e2622a" textLength="56" lengthAdjust="spacingAndGlyphs">产品应用</text>
<text x="112" y="658" font-size="13" font-weight="bold" fill="#e2622a" textLength="75" lengthAdjust="spacingAndGlyphs">APPlication</text>

<!-- panel 1 forklift -->
<g clip-path="url(#c1)">
 <rect x="40" y="660" width="130" height="95" fill="url(#p1)"/>
 <polygon points="50,690 165,668 165,676 50,700" fill="#6c757e"/>
 <polygon points="60,672 165,700 165,705 60,678" fill="#8a939b"/>
 <rect x="55" y="712" width="60" height="32" fill="#e8ebee"/>
 <rect x="112" y="688" width="8" height="60" fill="#3c434a"/>
 <rect x="122" y="700" width="22" height="40" fill="#4d555c"/>
 <polygon points="45,745 150,728 150,750 45,750" fill="#7a838b"/>
</g>
<!-- panel 2 parking -->
<g clip-path="url(#c2)">
 <rect x="150" y="660" width="150" height="95" fill="url(#p2)"/>
 <polygon points="160,700 293,690 293,696 160,706" fill="#2e3338"/>
 <polygon points="160,725 293,718 293,724 160,731" fill="#2e3338"/>
 <ellipse cx="200" cy="696" rx="22" ry="7" fill="#3b4147"/>
 <ellipse cx="255" cy="690" rx="24" ry="8" fill="#4a5056"/>
 <ellipse cx="195" cy="720" rx="20" ry="7" fill="#2f353a"/>
 <ellipse cx="250" cy="716" rx="22" ry="7" fill="#3d4349"/>
 <ellipse cx="230" cy="742" rx="26" ry="8" fill="#c4ccd2"/>
 <rect x="215" y="680" width="3" height="70" fill="#d5dade"/>
 <rect x="270" y="675" width="3" height="75" fill="#d5dade"/>
</g>
<!-- panel 3 conveyor -->
<g clip-path="url(#c3)">
 <rect x="280" y="660" width="135" height="95" fill="url(#p3)"/>
 <rect x="310" y="672" width="30" height="40" rx="3" fill="#c5ccd2" stroke="#7d868e"/>
 <rect x="340" y="685" width="32" height="42" rx="3" fill="#b6bec5" stroke="#7d868e"/>
 <rect x="370" y="700" width="35" height="45" rx="3" fill="#cdd3d8"/>
 <polygon points="283,705 300,690 350,750 320,750" fill="#3a4046"/>
 <g stroke="#9aa3aa" stroke-width="2"><line x1="298" y1="702" x2="305" y2="696"/><line x1="308" y1="714" x2="315" y2="708"/><line x1="318" y1="726" x2="325" y2="720"/><line x1="328" y1="738" x2="335" y2="732"/></g>
</g>
<!-- panel 4 dock -->
<g clip-path="url(#c4)">
 <rect x="398" y="660" width="130" height="95" fill="url(#p4)"/>
 <rect x="485" y="670" width="40" height="70" fill="#3a4046"/>
 <polygon points="400,745 490,712 520,712 520,750 400,750" fill="#59616a"/>
 <rect x="440" y="686" width="28" height="34" fill="#444b52"/>
 <rect x="466" y="680" width="20" height="30" fill="#cfd5da"/>
 <circle cx="450" cy="722" r="7" fill="#2b3035"/>
</g>
<!-- panel 5 truck -->
<g clip-path="url(#c5)">
 <rect x="510" y="660" width="145" height="95" fill="url(#p5)"/>
 <rect x="560" y="670" width="90" height="55" fill="#e2e6e9"/>
 <polygon points="530,700 565,690 565,730 530,735" fill="#6d767e"/>
 <circle cx="575" cy="735" r="11" fill="#2f353a"/>
 <circle cx="606" cy="736" r="11" fill="#2f353a"/>
 <circle cx="632" cy="736" r="11" fill="#2f353a"/>
 <circle cx="606" cy="736" r="4" fill="#aab2b8"/>
 <circle cx="632" cy="736" r="4" fill="#aab2b8"/>
 <rect x="589" y="660" width="2" height="95" fill="#fff"/>
</g>

<!-- labels -->
<g font-size="12.5" fill="#1b6b1b" style="font-family:'Noto Serif CJK SC','Liberation Serif',serif;font-weight:bold;">
 <text x="68" y="770" textLength="58" lengthAdjust="spacingAndGlyphs">电动叉车</text>
 <text x="163" y="770" textLength="109" lengthAdjust="spacingAndGlyphs">立体车库/升降机</text>
 <text x="320" y="770" textLength="43" lengthAdjust="spacingAndGlyphs">输送带</text>
 <text x="433" y="770" textLength="43" lengthAdjust="spacingAndGlyphs">登车桥</text>
 <text x="527" y="770" textLength="59" lengthAdjust="spacingAndGlyphs">汽车改装</text>
</g>
<g stroke="#1b6b1b" stroke-width="1">
 <line x1="68" y1="774" x2="126" y2="774"/>
 <line x1="163" y1="774" x2="272" y2="774"/>
 <line x1="320" y1="774" x2="363" y2="774"/>
 <line x1="433" y1="774" x2="476" y2="774"/>
 <line x1="527" y1="774" x2="586" y2="774"/>
</g>
</svg>
</body></html>
